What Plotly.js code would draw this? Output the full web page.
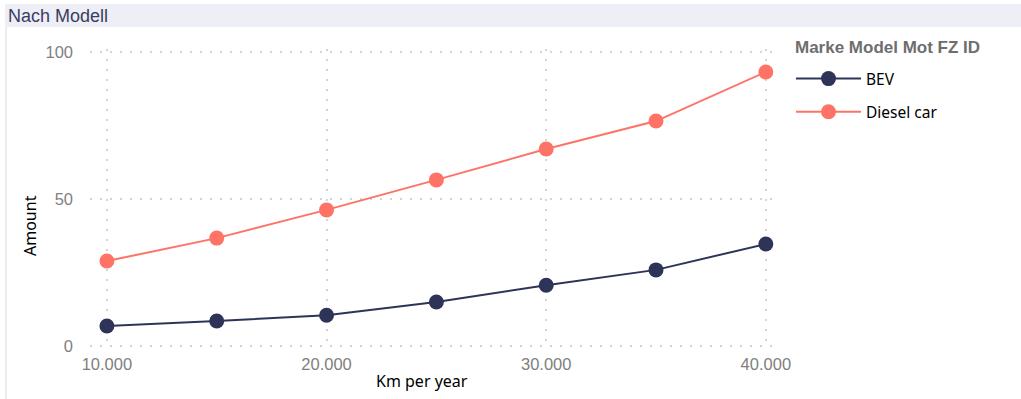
<!DOCTYPE html>
<html>
<head>
<meta charset="utf-8">
<script src="https://cdn.plot.ly/plotly-3.0.1.min.js"></script>
<style>html,body{margin:0;padding:0;background:#fff;}#chart{width:1021px;height:399px;}</style>
</head>
<body>
<div id="chart"></div>
<script>
const kmPerYear = [10000, 15000, 20000, 25000, 30000, 35000, 40000];
const bevAmount = [6.8, 8.5, 10.5, 15, 20.7, 25.9, 34.7];
const dieselAmount = [28.9, 36.7, 46.3, 56.5, 67, 76.5, 93.2];
const seriesNames = ['BEV', 'Diesel car'];
const xTickVals = [10000, 20000, 30000, 40000];
const xTickText = ['10.000', '20.000', '30.000', '40.000'];
const yTickVals = [0, 50, 100];

const W = 1021, H = 399, ML = 90, MR = 242, MT = 49, MB = 50;
const PW = W - ML - MR, PH = H - MT - MB;
const px = v => (v - ML) / PW;         // container px -> paper x
const py = v => (H - MB - v) / PH;     // container px -> paper y

const traces = [
  {x: kmPerYear, y: bevAmount, name: seriesNames[0], type: 'scatter', mode: 'lines+markers',
   legendgroup: 'a',
   line: {color: '#2E3458', width: 2}, marker: {color: '#2E3458', size: 15}},
  {x: kmPerYear, y: dieselAmount, name: seriesNames[1], type: 'scatter', mode: 'lines+markers',
   legendgroup: 'b',
   line: {color: '#FF7366', width: 2}, marker: {color: '#FF7366', size: 15}}
];

const gridStyle = {showgrid: true, gridcolor: '#d4d4d4', griddash: '2px,8px', gridwidth: 2};

const layout = {
  width: W, height: H,
  margin: {l: ML, r: MR, t: MT, b: MB},
  paper_bgcolor: '#ffffff', plot_bgcolor: '#ffffff',
  font: {family: 'Liberation Sans, Arial, sans-serif', color: '#7f7f7f', size: 16},
  title: {text: 'Nach Modell', xref: 'container', yref: 'container', x: 8 / W, xanchor: 'left',
          y: 1 - 15.5 / H, yanchor: 'middle', pad: {l: 0, t: 0, b: 0, r: 0},
          font: {family: 'Liberation Sans, Arial, sans-serif', size: 18, color: '#3A3E5E'}},
  xaxis: Object.assign({
    range: [9230, 40600], tickvals: xTickVals, ticktext: xTickText,
    zeroline: false, showline: false, ticks: '', ticklabelstandoff: 3,
    tickfont: {size: 16.5, color: '#808080'}
  }, gridStyle),
  yaxis: Object.assign({
    range: [-1, 101], tickvals: yTickVals,
    zeroline: false, showline: false, ticks: '', ticklabelstandoff: 16,
    tickfont: {size: 16.5, color: '#808080'}
  }, gridStyle),
  legend: {
    x: px(791), xref: 'paper', y: py(62), yanchor: 'top', xanchor: 'left',
    font: {family: 'Noto Sans, sans-serif', size: 15.5, color: '#000000'},
    tracegroupgap: 10, itemwidth: 65, bgcolor: 'rgba(0,0,0,0)'
  },
  annotations: [
    {text: '<b>Marke Model Mot FZ ID</b>', xref: 'paper', yref: 'paper', x: px(793), y: py(47),
     xanchor: 'left', yanchor: 'middle', showarrow: false,
     font: {family: 'Liberation Sans, Arial, sans-serif', size: 17, color: '#6e6e6e'}},
    {text: 'Amount', xref: 'paper', yref: 'paper', x: px(30), y: py(226), textangle: -90,
     xanchor: 'center', yanchor: 'middle', showarrow: false,
     font: {family: 'Noto Sans, sans-serif', size: 16, color: '#000000'}},
    {text: 'Km per year', xref: 'paper', yref: 'paper', x: px(422), y: py(381),
     xanchor: 'center', yanchor: 'middle', showarrow: false,
     font: {family: 'Noto Sans, sans-serif', size: 16, color: '#000000'}}
  ],
  shapes: [
    {type: 'rect', xref: 'paper', yref: 'paper', layer: 'below',
     x0: px(5), x1: px(1025), y0: py(27), y1: py(4), fillcolor: '#EDEEF6', line: {width: 0}},
    {type: 'line', xref: 'paper', yref: 'paper', layer: 'below',
     x0: px(6), x1: px(6), y0: py(27), y1: py(402), line: {color: '#E8ECF3', width: 2}}
  ],
  showlegend: true
};

Plotly.newPlot('chart', traces, layout, {displayModeBar: false, staticPlot: true});
</script>
</body>
</html>
